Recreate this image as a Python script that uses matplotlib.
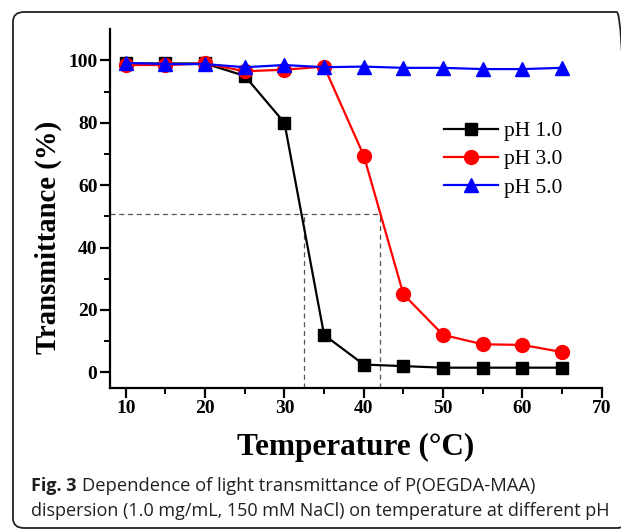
import matplotlib.pyplot as plt
from matplotlib.patches import FancyBboxPatch

temps = [10, 15, 20, 25, 30, 35, 40, 45, 50, 55, 60, 65]
ph1 = [99, 99, 99, 95, 80, 12, 2.5, 2, 1.5, 1.5, 1.5, 1.5]
ph3 = [98.5, 98.5, 99, 96.5, 97, 98, 69.5, 25, 12, 9, 8.8, 6.5]
ph5 = [99.2, 98.8, 98.8, 97.8, 98.5, 97.8, 98, 97.6, 97.6, 97.2, 97.2, 97.6]
labels = ["pH 1.0", "pH 3.0", "pH 5.0"]

half_y = 50.7
half_x = [32.5, 42.1]

serif = "Liberation Serif"

fig = plt.figure(figsize=(6.21, 5.30), dpi=100)
ax = fig.add_axes([0.177, 0.268, 0.792, 0.677])

ax.plot(temps, ph1, color="black", marker="s", ms=9, lw=1.6, label=labels[0], zorder=3)
ax.plot(temps, ph3, color="#ff0000", marker="o", ms=10, lw=1.6, label=labels[1], zorder=3)
ax.plot(temps, ph5, color="#0000ff", marker="^", ms=10.5, lw=1.6, label=labels[2], zorder=4)

# guide lines at 50 % transmittance
ax.plot([8, half_x[1]], [half_y, half_y], color="#555555", ls=(0, (4, 3)), lw=0.9, zorder=1)
for xv in half_x:
    ax.plot([xv, xv], [-5, half_y], color="#555555", ls=(0, (4, 3)), lw=0.9, zorder=1)

ax.set_xlim(8, 70)
ax.set_ylim(-5, 110)
ax.set_xticks(range(10, 71, 10))
ax.set_xticks(range(15, 70, 10), minor=True)
ax.set_yticks(range(0, 101, 20))
ax.set_yticks(range(10, 110, 20), minor=True)

ax.spines["top"].set_visible(False)
ax.spines["right"].set_visible(False)
for s in ["left", "bottom"]:
    ax.spines[s].set_linewidth(1.6)
ax.tick_params(which="major", direction="out", length=7, width=1.6, pad=2)
ax.tick_params(which="minor", direction="out", length=4, width=1.4)

for lab in ax.get_xticklabels() + ax.get_yticklabels():
    lab.set_fontfamily(serif)
    lab.set_fontweight("bold")
    lab.set_fontsize(14)

ax.set_xlabel("Temperature (°C)", fontfamily=serif, fontweight="bold", fontsize=22.5, labelpad=11)
ax.set_ylabel("Transmittance (%)", fontfamily=serif, fontweight="bold", fontsize=20.7)
ax.yaxis.set_label_coords(-0.097, 0.42)

leg = ax.legend(loc="upper left", bbox_to_anchor=(0.68, 0.743), frameon=False,
                prop={"family": serif, "size": 15.5}, handlelength=2.5,
                handletextpad=0.25, labelspacing=0.37, borderaxespad=0, borderpad=0)

# caption
fig.patches.append(FancyBboxPatch((13 / 621, 2 / 530), 0.99, 1 - 14 / 530,
                                  boxstyle="round,pad=0,rounding_size=0.018",
                                  transform=fig.transFigure, fill=False,
                                  edgecolor="#222222", lw=1.3, clip_on=False))

cap_color = "#231f20"
t1 = fig.text(31 / 621, 1 - 491 / 530, "Fig. 3", fontfamily="Open Sans", fontweight="bold",
              fontsize=13, color=cap_color, va="baseline")
fig.canvas.draw()
bb = t1.get_window_extent()
fig.text((bb.x1 + 5) / 621, 1 - 491 / 530, "Dependence of light transmittance of P(OEGDA-MAA)",
         fontfamily="Open Sans", fontsize=13.2, color=cap_color, va="baseline")
fig.text(31 / 621, 1 - 516 / 530,
         "dispersion (1.0 mg/mL, 150 mM NaCl) on temperature at different pH",
         fontfamily="Open Sans", fontsize=13, color=cap_color, va="baseline")

fig.savefig("out.png", dpi=100)
